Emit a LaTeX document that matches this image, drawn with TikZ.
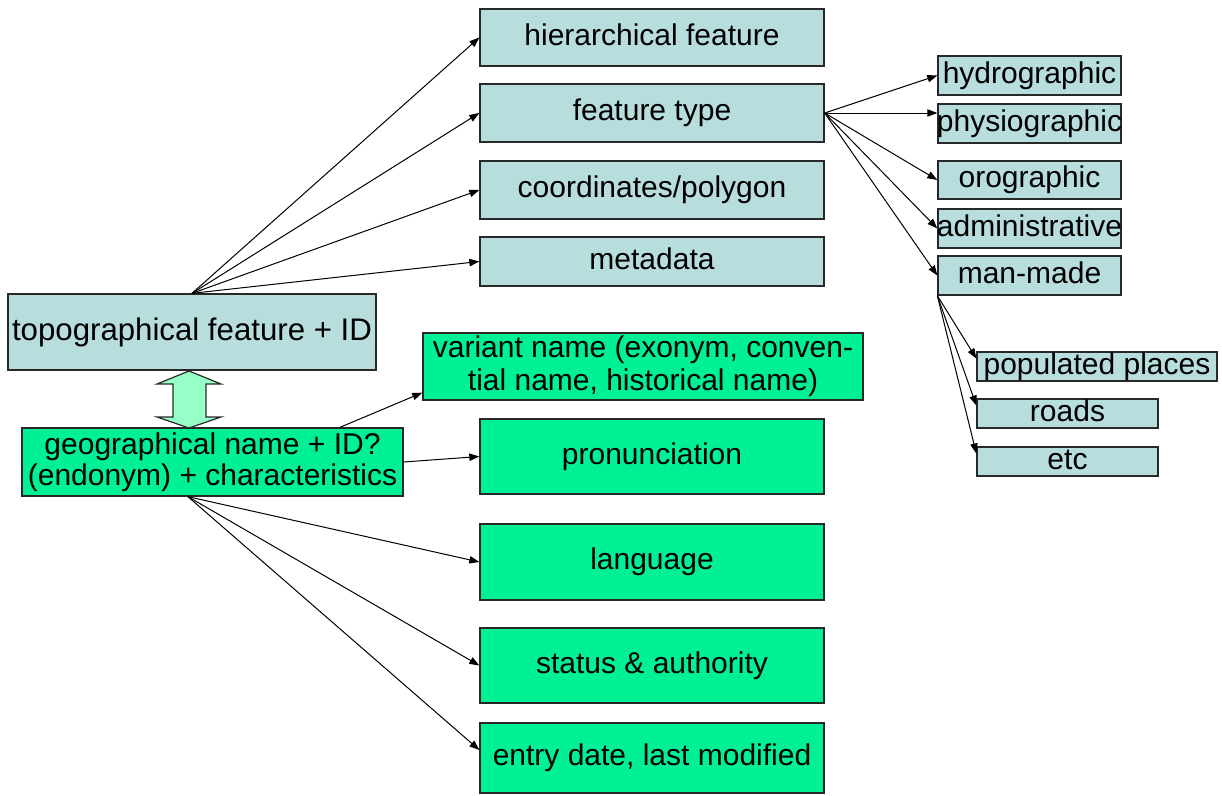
\documentclass[tikz,border=0pt]{standalone}
\usepackage{fontspec}
\setmainfont{Liberation Sans}
\usetikzlibrary{arrows.meta,calc}
\definecolor{bluefill}{RGB}{183,221,221}
\definecolor{greenfill}{RGB}{0,240,150}
\definecolor{mintfill}{RGB}{150,255,200}
\definecolor{edgecol}{RGB}{40,40,40}
\begin{document}
\begin{tikzpicture}[x=0.75pt,y=-0.75pt,
  box/.style={draw=edgecol,line width=1pt,inner sep=0pt,font=\fontsize{22.5}{26}\selectfont},
  bluebx/.style={box,fill=bluefill},
  greenbx/.style={box,fill=greenfill},
  oneline/.style={text height=16.2pt,text depth=4.3pt},
  sz/.style 2 args={minimum width=#1*0.75pt,minimum height=#2*0.75pt},
  arr/.style={-{Triangle[length=7.5pt,width=5.5pt]},line width=0.75pt,draw=black}
]
\useasboundingbox[fill=white] (0,0) rectangle (1222,796);

% feature branch
\node[bluebx,oneline,sz={344}{57}] (hier) at (652,37.5) {hierarchical feature};
\node[bluebx,oneline,sz={344}{58}] (ft) at (652,113) {feature type};
\node[bluebx,oneline,sz={344}{58}] (coord) at (652,190) {coordinates/polygon};
\node[bluebx,oneline,sz={344}{49}] (meta) at (652,261.5) {metadata};
\node[bluebx,sz={368}{76},font=\fontsize{23.4}{28}\selectfont,text height=16.8pt,text depth=4.5pt] (topo) at (192,332) {topographical feature + ID};

% feature types
\node[bluebx,oneline,sz={183}{39}] (hydro) at (1029.5,75.5) {\makebox[0pt]{hydrographic}};
\node[bluebx,oneline,sz={183}{39}] (physio) at (1029.5,123.5) {\makebox[0pt]{physiographic}};
\node[bluebx,oneline,sz={183}{38}] (oro) at (1029.5,180) {\makebox[0pt]{orographic}};
\node[bluebx,oneline,sz={183}{39}] (admin) at (1029.5,228.5) {\makebox[0pt]{administrative}};
\node[bluebx,oneline,sz={183}{39}] (mm) at (1029.5,275.5) {\makebox[0pt]{man-made}};
\node[bluebx,oneline,sz={240}{29}] (pop) at (1097,366.5) {\makebox[0pt]{populated places}};
\node[bluebx,oneline,sz={181}{29}] (roads) at (1067.5,413.5) {\makebox[0pt]{roads}};
\node[bluebx,oneline,sz={181}{29}] (etc) at (1067.5,461.5) {\makebox[0pt]{etc}};

% name branch
\node[greenbx,sz={381}{68},align=center,font=\fontsize{22.5}{23.5}\selectfont] (geo) at (212.5,462) {geographical name + ID?\\(endonym) + characteristics};
\node[greenbx,sz={440}{67},align=center,font=\fontsize{22.5}{25}\selectfont] (variant) at (643,366.5) {variant name (exonym, conven-\\tial name, historical name)};
\node[greenbx,oneline,sz={344}{75}] (pron) at (652,456.5) {pronunciation};
\node[greenbx,oneline,sz={344}{76}] (lang) at (652,562) {language};
\node[greenbx,oneline,sz={344}{75}] (status) at (652,665.5) {status \& authority};
\node[greenbx,oneline,sz={344}{70}] (entry) at (652,758) {entry date, last modified};

% double block arrow between topo and geo
\draw[draw=edgecol,line width=0.9pt,fill=mintfill]
  (189,371) -- (221,384) -- (206,384) -- (206,417) -- (221,417) -- (189,428)
  -- (157,417) -- (173,417) -- (173,384) -- (157,384) -- cycle;

% connectors
\draw[arr] (topo.north) -- (hier.west);
\draw[arr] (topo.north) -- (ft.west);
\draw[arr] (topo.north) -- (coord.west);
\draw[arr] (topo.north) -- (meta.west);

\draw[arr] (ft.east) -- (hydro.west);
\draw[arr] (ft.east) -- (physio.west |- ft.east);
\draw[arr] (ft.east) -- (oro.west);
\draw[arr] (ft.east) -- (admin.west);
\draw[arr] (ft.east) -- (mm.west);

\draw[arr] (mm.south west) -- ([yshift=6pt]pop.west);
\draw[arr] (mm.south west) -- ([yshift=6pt]roads.west);
\draw[arr] (mm.south west) -- ([yshift=6pt]etc.west);

\draw[arr] ([xshift=95.6pt]geo.north) -- ([yshift=6pt]variant.south west);
\draw[arr] (geo.east) -- (pron.west);
\draw[arr] ([xshift=-18.4pt]geo.south) -- (lang.west);
\draw[arr] ([xshift=-18.4pt]geo.south) -- (status.west);
\draw[arr] ([xshift=-18.4pt]geo.south) -- ([yshift=6pt]entry.west);
\end{tikzpicture}
\end{document}
